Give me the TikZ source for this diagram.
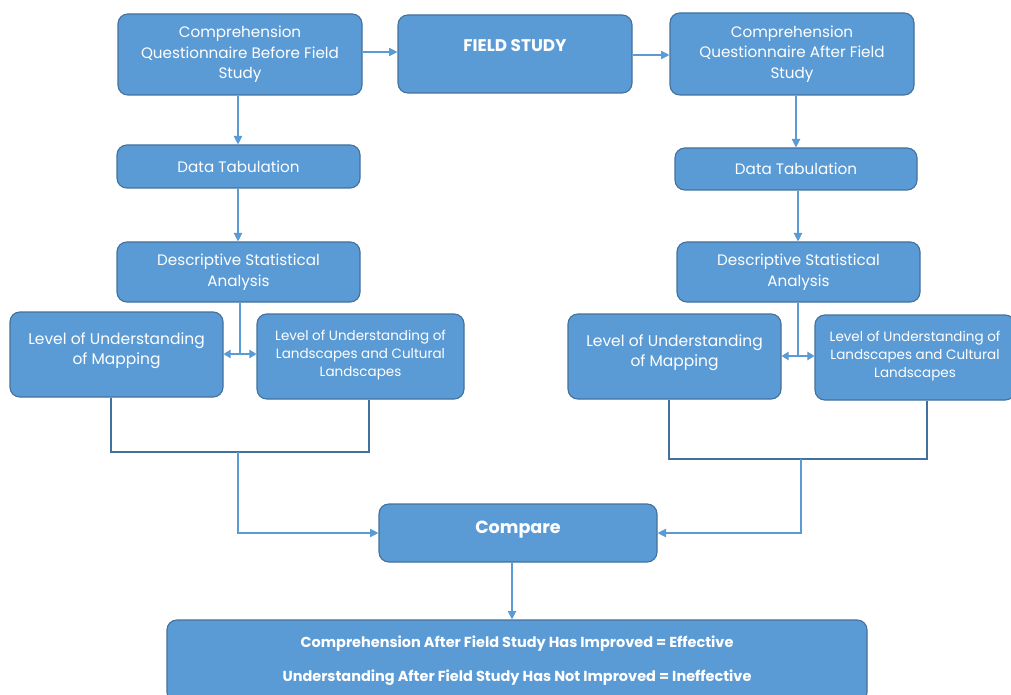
\documentclass[tikz,border=0pt]{standalone}
\usepackage{fontspec}
\setmainfont{Poppins}
\usetikzlibrary{arrows.meta}
\definecolor{boxblue}{HTML}{5B9BD5}
\definecolor{edgeblue}{HTML}{41719C}
\definecolor{linkblue}{HTML}{5B9BD5}
\tikzset{
  box/.style = {draw=edgeblue, line width=.8pt, fill=boxblue, rounded corners=7pt,
                text=white, align=center, font=\fontsize{10.8}{14.6}\selectfont, inner sep=2pt},
  link/.style = {draw=linkblue, line width=.8pt},
  arr/.style = {link, -{Triangle[length=6pt,width=6pt]}},
  bracket/.style = {draw=edgeblue, line width=1.1pt},
  mapbox/.style = {box, minimum width=213*.025cm, minimum height=85*.025cm, font=\fontsize{11}{14.4}\selectfont},
  landbox/.style = {box, minimum height=85*.025cm, font=\fontsize{9.6}{12.8}\selectfont},
}
\begin{document}
\begin{tikzpicture}[x=.025cm, y=-.025cm]
        \useasboundingbox (0,0) rectangle (1011,695);

        % top row
        \node[box, minimum width=244*.025cm, minimum height=81*.025cm] (qbefore) at (240,54.5)
            {Comprehension\\Questionnaire Before Field\\Study};
        \node[box, minimum width=234*.025cm, minimum height=78*.025cm, font=\fontsize{12}{14}\selectfont\bfseries] (field) at (515,54) {FIELD STUDY\\[-2.6pt]};
        \node[box, minimum width=244*.025cm, minimum height=82*.025cm] (qafter) at (792,54)
            {Comprehension\\Questionnaire After Field\\Study};

        % left column
        \node[box, minimum width=243*.025cm, minimum height=43*.025cm] (tabL) at (238.5,166.5) {Data Tabulation};
        \node[box, minimum width=243*.025cm, minimum height=60*.025cm] (descL) at (238.5,272) {Descriptive Statistical\\Analysis};
        \node[mapbox] (mapL) at (116.5,354.5) {Level of Understanding\\of Mapping\\[-6pt]};
        \node[landbox, minimum width=207*.025cm] (landL) at (360.5,356.5) {Level of Understanding of\\Landscapes and Cultural\\Landscapes\\[-7.8pt]};

        % right column
        \node[box, minimum width=242*.025cm, minimum height=42*.025cm] (tabR) at (796,169) {Data Tabulation};
        \node[box, minimum width=243*.025cm, minimum height=60*.025cm] (descR) at (798.5,272) {Descriptive Statistical\\Analysis};
        \node[mapbox] (mapR) at (674.5,356.5) {Level of Understanding\\of Mapping\\[-6pt]};
        \node[landbox, minimum width=200*.025cm] (landR) at (915,357.5) {Level of Understanding of\\Landscapes and Cultural\\Landscapes\\[-7.8pt]};

        % result
        \node[box, minimum width=278*.025cm, minimum height=58*.025cm, font=\fontsize{12.5}{14}\selectfont\bfseries] (cmp) at (518,533) {Compare\\[-5.4pt]};
        \node[box, minimum width=700*.025cm, minimum height=82*.025cm, font=\fontsize{10.3}{24}\selectfont\bfseries] (result) at (517,661)
            {Comprehension After Field Study Has Improved = Effective\\Understanding After Field Study Has Not Improved = Ineffective};

        % arrows
        \draw[arr] (qbefore.east |- 0,52) -- (field.west |- 0,52);
        \draw[arr] (field.east |- 0,55) -- (qafter.west |- 0,55);
        \draw[arr] (qbefore.south -| 238,0) -- (tabL.north -| 238,0);
        \draw[arr] (tabL.south -| 238,0) -- (descL.north -| 238,0);
        \draw[arr] (qafter.south -| 796,0) -- (tabR.north -| 796,0);
        \draw[arr] (tabR.south -| 798,0) -- (descR.north -| 798,0);

        \draw[link] (descL.south -| 240,0) -- (240,354);
        \draw[link, {Triangle[length=5pt,width=6pt]}-{Triangle[length=5pt,width=6pt]}] (mapL.east |- 0,354) -- (landL.west |- 0,354);
        \draw[link] (descR.south -| 798,0) -- (798,356);
        \draw[link, {Triangle[length=5pt,width=6pt]}-{Triangle[length=5pt,width=6pt]}] (mapR.east |- 0,356) -- (landR.west |- 0,356);

        % brackets
        \draw[bracket] (mapL.south -| 111,0) |- (369,452) -- (landL.south -| 369,0);
        \draw[bracket] (mapR.south -| 669,0) |- (927,459) -- (landR.south -| 927,0);
        \coordinate (jl) at (238,452);
        \coordinate (jr) at (801,459);
        \draw[arr] (jl) |- (cmp.west);
        \draw[arr] (jr) |- (cmp.east);

        \draw[arr] (cmp.south -| 512,0) -- (result.north -| 512,0);
\end{tikzpicture}
\end{document}
